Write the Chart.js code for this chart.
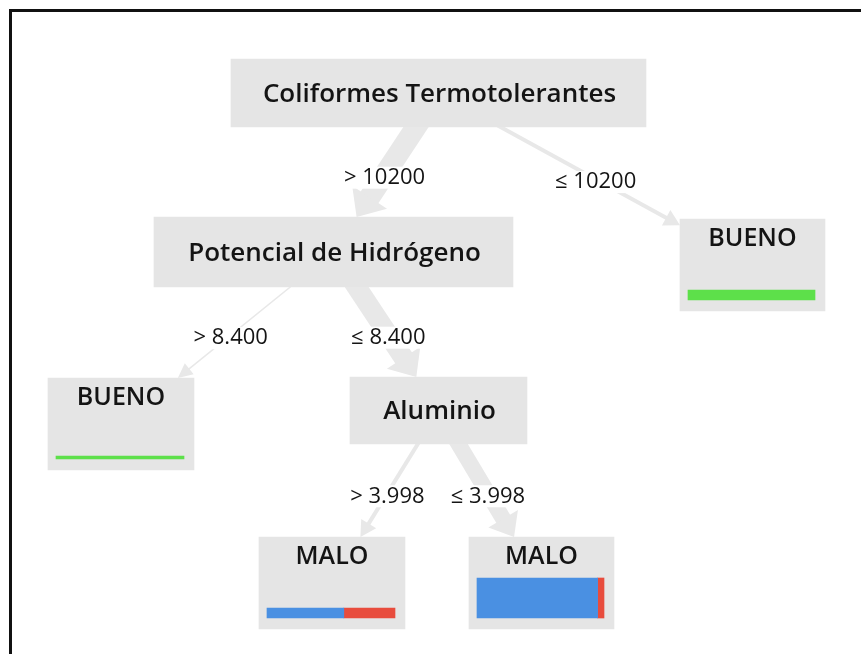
<!DOCTYPE html>
<html lang="es">
<head>
<meta charset="UTF-8">
<title>Árbol de decisión - calidad del agua</title>
<style>
    body {
        margin: 0;
        background: #fff;
        overflow: hidden;
    }

    #wrap {
        position: relative;
        width: 861px;
        height: 654px;
        overflow: hidden;
    }

    #marco {
        position: absolute;
        left: 9px;
        top: 9px;
        width: 900px;
        height: 700px;
        border: 3px solid #111;
        box-sizing: border-box;
    }

    canvas {
        position: absolute;
        left: 0;
        top: 0;
    }
</style>
</head>
<body>

<div id="wrap">
    <canvas id="arbol" width="861" height="654"></canvas>
    <div id="marco"></div>
</div>

<script src="https://cdn.jsdelivr.net/npm/chart.js"></script>
<script>
    // nodos del arbol y condicion de la rama que llega a cada uno
    const nodos = ['Coliformes Termotolerantes', 'Potencial de Hidrógeno', 'BUENO', 'BUENO', 'Aluminio', 'MALO', 'MALO'];
    const padres = [-1, 0, 0, 1, 1, 4, 4];
    const condiciones = ['', '> 10200', '≤ 10200', '> 8.400', '≤ 8.400', '> 3.998', '≤ 3.998'];

    // distribucion de clases en las hojas
    const hojas = [2, 3, 5, 6];
    const clases = ['BUENO', 'MALO', 'REGULAR'];
    const nBueno = [10, 3, 0, 0];
    const nMalo = [0, 0, 6, 38];
    const nRegular = [0, 0, 4, 2];

    // posicion de las cajas (centro x, centro y, ancho, alto) en px
    const cajas = [
        { x: 438.5, y: 93, w: 415, h: 68 },
        { x: 333.5, y: 252, w: 359, h: 70 },
        { x: 752.5, y: 265, w: 145, h: 92 },
        { x: 121, y: 424, w: 146, h: 92 },
        { x: 438.5, y: 410.5, w: 177, h: 67 },
        { x: 332, y: 583, w: 146, h: 92 },
        { x: 541.5, y: 583, w: 145, h: 92 }
    ];

    const colores = ['#5de04a', '#4a90e2', '#e84c3d'];
    const gris = '#e5e5e5';
    const fuente = '"Open Sans", "DejaVu Sans", sans-serif';

    const series = [nBueno, nMalo, nRegular];
    const totalHoja = hojas.map((id, k) => nBueno[k] + nMalo[k] + nRegular[k]);
    const maxHoja = Math.max(...totalHoja);

    // muestras que pasan por cada nodo
    function totalNodo(i) {
        const k = hojas.indexOf(i);
        if (k >= 0) return totalHoja[k];
        let s = 0;
        padres.forEach((p, j) => { if (p === i) s += totalNodo(j); });
        return s;
    }

    const datasets = [];

    // cajas grises
    cajas.forEach((c, i) => {
        datasets.push({
            label: nodos[i],
            data: [{ y: c.y, x: [c.x - c.w / 2, c.x + c.w / 2] }],
            backgroundColor: gris,
            barThickness: c.h,
            stack: 'arbol',
            order: 2
        });
    });

    // barras de distribucion de clases
    hojas.forEach((id, k) => {
        const c = cajas[id];
        const total = totalHoja[k];
        const alto = Math.max(3, total / maxHoja * 40);
        const x0 = c.x - c.w / 2 + 8;
        const ancho = c.w - 18;
        const yBar = c.y + c.h / 2 - 11 - alto / 2;
        let acum = 0;
        series.forEach((s, j) => {
            if (!s[k]) return;
            datasets.push({
                label: clases[j],
                data: [{ y: yBar, x: [x0 + acum / total * ancho, x0 + (acum + s[k]) / total * ancho] }],
                backgroundColor: colores[j],
                barThickness: alto,
                stack: 'arbol',
                order: 1
            });
            acum += s[k];
        });
    });

    // tramo visible de la rama padre -> hijo (en px)
    function tramo(sx, sy, p, i) {
        const a = cajas[p], b = cajas[i];
        const P = { x: sx.getPixelForValue(a.x), y: sy.getPixelForValue(a.y) };
        const C = { x: sx.getPixelForValue(b.x), y: sy.getPixelForValue(b.y) };
        const pw = Math.abs(sx.getPixelForValue(a.x + a.w / 2) - P.x);
        const ph = Math.abs(sy.getPixelForValue(a.y + a.h / 2) - P.y);
        const cw = Math.abs(sx.getPixelForValue(b.x + b.w / 2) - C.x);
        const ch = Math.abs(sy.getPixelForValue(b.y + b.h / 2) - C.y);
        const dx = C.x - P.x, dy = C.y - P.y;
        const tIn = Math.max((dy - ch) / dy, dx !== 0 ? (Math.abs(dx) - cw) / Math.abs(dx) : -Infinity);
        const tOut = Math.min(ph / dy, dx !== 0 ? pw / Math.abs(dx) : Infinity);
        return {
            P: P,
            tip: { x: P.x + dx * tIn, y: P.y + dy * tIn },
            out: { x: P.x + dx * tOut, y: P.y + dy * tOut }
        };
    }

    const ramas = {
        id: 'ramas',
        beforeDatasetsDraw(chart) {
            const { ctx, scales } = chart;
            ctx.save();
            ctx.fillStyle = '#e8e8e8';
            ctx.strokeStyle = '#e8e8e8';
            padres.forEach((p, i) => {
                if (p < 0) return;
                const t = tramo(scales.x, scales.y, p, i);
                const lw = Math.max(1.5, totalNodo(i) * 0.4);
                const len = Math.hypot(t.tip.x - t.P.x, t.tip.y - t.P.y);
                const ux = (t.tip.x - t.P.x) / len, uy = (t.tip.y - t.P.y) / len;
                const cabeza = 14 + lw * 0.45;
                const media = 6 + lw * 0.7;
                const bx = t.tip.x - ux * cabeza, by = t.tip.y - uy * cabeza;
                ctx.lineWidth = lw;
                ctx.lineCap = 'butt';
                ctx.beginPath();
                ctx.moveTo(t.P.x, t.P.y);
                ctx.lineTo(bx + ux, by + uy);
                ctx.stroke();
                ctx.beginPath();
                ctx.moveTo(t.tip.x, t.tip.y);
                ctx.lineTo(bx - uy * media, by + ux * media);
                ctx.lineTo(bx + uy * media, by - ux * media);
                ctx.closePath();
                ctx.fill();
            });
            ctx.restore();
        },
        afterDatasetsDraw(chart) {
            const { ctx, scales } = chart;
            ctx.save();
            ctx.textAlign = 'center';
            ctx.textBaseline = 'middle';

            // condiciones sobre las ramas
            ctx.font = '500 22px ' + fuente;
            padres.forEach((p, i) => {
                if (p < 0) return;
                const t = tramo(scales.x, scales.y, p, i);
                const mx = t.out.x + (t.tip.x - t.out.x) * 0.53;
                const my = t.out.y + (t.tip.y - t.out.y) * 0.53 + 3;
                const w = ctx.measureText(condiciones[i]).width;
                ctx.fillStyle = '#fff';
                ctx.fillRect(mx - w / 2 - 2, my - 11, w + 4, 22);
                ctx.fillStyle = '#141414';
                ctx.fillText(condiciones[i], mx, my);
            });

            // nombres de los nodos
            nodos.forEach((n, i) => {
                const c = cajas[i];
                const cx = scales.x.getPixelForValue(c.x);
                ctx.fillStyle = '#141414';
                if (hojas.includes(i)) {
                    ctx.font = '600 25px ' + fuente;
                    ctx.fillText(n, cx, scales.y.getPixelForValue(c.y - c.h / 2 + 20));
                } else {
                    ctx.font = '600 26px ' + fuente;
                    ctx.fillText(n, cx + 1, scales.y.getPixelForValue(c.y + 1.5));
                }
            });
            ctx.restore();
        }
    };

    const ctx = document.getElementById('arbol').getContext('2d');
    const arbol = new Chart(ctx, {
        type: 'bar',
        data: { datasets: datasets },
        options: {
            indexAxis: 'y',
            responsive: false,
            animation: false,
            devicePixelRatio: 1,
            layout: { padding: 0 },
            plugins: {
                legend: { display: false },
                tooltip: { enabled: false }
            },
            scales: {
                x: { type: 'linear', min: 0, max: 861, stacked: false, display: false },
                y: { type: 'linear', min: 0, max: 654, reverse: true, offset: false, display: false }
            }
        },
        plugins: [ramas]
    });
</script>

</body>
</html>
